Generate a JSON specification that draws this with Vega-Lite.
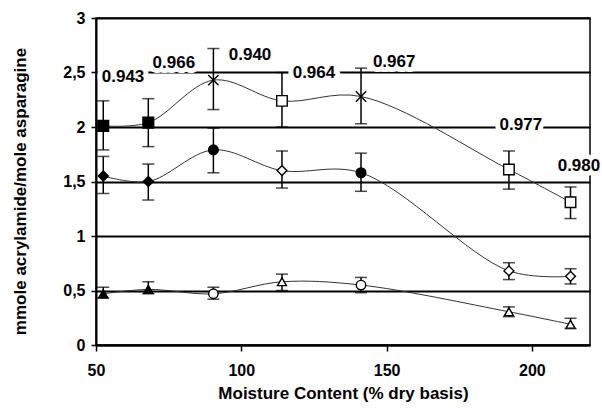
{
  "$schema": "https://vega.github.io/schema/vega-lite/v6.json",
  "width": 494,
  "height": 327,
  "autosize": {"type": "none"},
  "padding": {"left": 96, "top": 18, "right": 12, "bottom": 63},
  "background": "white",
  "config": {
    "view": {"stroke": "black", "strokeWidth": 1.5},
    "font": "Liberation Sans"
  },
  "datasets": {
    "points": [
      {"series": "A", "x": 52.5, "y": 2.01, "lo": 1.79, "hi": 2.24, "symbol": "sq_f"},
      {"series": "A", "x": 68, "y": 2.04, "lo": 1.82, "hi": 2.26, "symbol": "sq_f"},
      {"series": "A", "x": 90.4, "y": 2.43, "lo": 2.16, "hi": 2.72, "symbol": "x"},
      {"series": "A", "x": 114, "y": 2.24, "lo": 2.0, "hi": 2.5, "symbol": "sq_o"},
      {"series": "A", "x": 141.2, "y": 2.28, "lo": 2.03, "hi": 2.54, "symbol": "x"},
      {"series": "A", "x": 192.1, "y": 1.61, "lo": 1.43, "hi": 1.78, "symbol": "sq_o"},
      {"series": "A", "x": 213.3, "y": 1.31, "lo": 1.16, "hi": 1.45, "symbol": "sq_o"},
      {"series": "B", "x": 52.5, "y": 1.55, "lo": 1.39, "hi": 1.73, "symbol": "dia_f"},
      {"series": "B", "x": 68, "y": 1.5, "lo": 1.33, "hi": 1.66, "symbol": "dia_f"},
      {"series": "B", "x": 90.4, "y": 1.79, "lo": 1.58, "hi": 1.99, "symbol": "cir_f"},
      {"series": "B", "x": 114, "y": 1.6, "lo": 1.44, "hi": 1.78, "symbol": "dia_o"},
      {"series": "B", "x": 141.2, "y": 1.58, "lo": 1.41, "hi": 1.76, "symbol": "cir_f"},
      {"series": "B", "x": 192.1, "y": 0.68, "lo": 0.6, "hi": 0.755, "symbol": "dia_o"},
      {"series": "B", "x": 213.3, "y": 0.63, "lo": 0.56, "hi": 0.7, "symbol": "dia_o"},
      {"series": "C", "x": 52.5, "y": 0.47, "lo": 0.43, "hi": 0.53, "symbol": "tri_f"},
      {"series": "C", "x": 68, "y": 0.51, "lo": 0.47, "hi": 0.58, "symbol": "tri_f"},
      {"series": "C", "x": 90.4, "y": 0.47, "lo": 0.42, "hi": 0.53, "symbol": "cir_o"},
      {"series": "C", "x": 114, "y": 0.58, "lo": 0.5, "hi": 0.65, "symbol": "tri_o"},
      {"series": "C", "x": 141.2, "y": 0.55, "lo": 0.48, "hi": 0.62, "symbol": "cir_o"},
      {"series": "C", "x": 192.1, "y": 0.305, "lo": 0.26, "hi": 0.35, "symbol": "tri_o"},
      {"series": "C", "x": 213.3, "y": 0.19, "lo": 0.15, "hi": 0.245, "symbol": "tri_o"}
    ],
    "labels": [
      {"x": 59.3, "y": 2.46, "label": "0.943"},
      {"x": 76.8, "y": 2.59, "label": "0.966"},
      {"x": 103, "y": 2.66, "label": "0.940"},
      {"x": 125, "y": 2.5, "label": "0.964"},
      {"x": 152.6, "y": 2.6, "label": "0.967"},
      {"x": 196.2, "y": 2.02, "label": "0.977"},
      {"x": 216.2, "y": 1.645, "label": "0.980"}
    ]
  },
  "layer": [
    {
      "data": {"name": "points"},
      "mark": {"type": "line", "interpolate": "catmull-rom", "color": "#333333", "strokeWidth": 1},
      "encoding": {
        "x": {
          "field": "x", "type": "quantitative",
          "scale": {"domain": [50, 220], "nice": false, "zero": false},
          "axis": {
            "values": [50, 100, 150, 200],
            "title": "Moisture Content (% dry basis)",
            "grid": false,
            "domainColor": "black", "domainWidth": 2,
            "tickColor": "black", "tickWidth": 1.5, "tickSize": 6,
            "labelFont": "Liberation Sans", "labelFontSize": 16, "labelFontWeight": "bold", "labelColor": "black",
            "labelPadding": 11, "labelFlush": false,
            "titleFont": "Liberation Sans", "titleFontSize": 17, "titleFontWeight": "bold", "titleColor": "black",
            "titlePadding": 7
          }
        },
        "y": {
          "field": "y", "type": "quantitative",
          "scale": {"domain": [0, 3], "nice": false},
          "axis": {
            "values": [0, 0.5, 1, 1.5, 2, 2.5, 3],
            "labelExpr": "replace(toString(datum.value), '.', ',')",
            "title": "mmole acrylamide/mole asparagine",
            "grid": true, "gridColor": "black", "gridWidth": 2, "gridOpacity": 1,
            "domainColor": "black", "domainWidth": 2,
            "tickColor": "black", "tickWidth": 1.5, "tickSize": 5,
            "labelFont": "Liberation Sans", "labelFontSize": 16, "labelFontWeight": "bold", "labelColor": "black",
            "labelPadding": 6,
            "titleFont": "Liberation Sans", "titleFontSize": 17, "titleFontWeight": "bold", "titleColor": "black",
            "titleX": -67, "titleY": 173
          }
        },
        "detail": {"field": "series"}
      }
    },
    {
      "data": {"name": "points"},
      "mark": {"type": "rule", "color": "black", "strokeWidth": 1.5},
      "encoding": {
        "x": {"field": "x", "type": "quantitative"},
        "y": {"field": "lo", "type": "quantitative"},
        "y2": {"field": "hi"}
      }
    },
    {
      "data": {"name": "points"},
      "transform": [{"fold": ["lo", "hi"], "as": ["end", "val"]}],
      "mark": {"type": "tick", "orient": "horizontal", "size": 12, "thickness": 1.5, "color": "black"},
      "encoding": {
        "x": {"field": "x", "type": "quantitative"},
        "y": {"field": "val", "type": "quantitative"}
      }
    },
    {
      "data": {"name": "points"},
      "mark": {"type": "point", "stroke": "black", "strokeWidth": 1.4, "opacity": 1, "fillOpacity": 1},
      "encoding": {
        "x": {"field": "x", "type": "quantitative"},
        "y": {"field": "y", "type": "quantitative"},
        "shape": {
          "field": "symbol", "type": "nominal", "legend": null,
          "scale": {
            "domain": ["sq_f", "sq_o", "x", "dia_f", "dia_o", "cir_f", "cir_o", "tri_f", "tri_o"],
            "range": ["square", "square", "M-1,-1L1,1M-1,1L1,-1", "diamond", "diamond", "circle", "circle", "triangle-up", "triangle-up"]
          }
        },
        "fill": {
          "field": "symbol", "type": "nominal", "legend": null,
          "scale": {
            "domain": ["sq_f", "sq_o", "x", "dia_f", "dia_o", "cir_f", "cir_o", "tri_f", "tri_o"],
            "range": ["black", "white", "white", "black", "white", "black", "white", "black", "white"]
          }
        },
        "size": {
          "field": "symbol", "type": "nominal", "legend": null,
          "scale": {
            "domain": ["sq_f", "sq_o", "x", "dia_f", "dia_o", "cir_f", "cir_o", "tri_f", "tri_o"],
            "range": [115, 80, 160, 130, 110, 120, 120, 130, 110]
          }
        }
      }
    },
    {
      "data": {"name": "labels"},
      "mark": {"type": "text", "font": "Liberation Sans", "fontSize": 17, "fontWeight": "bold", "color": "white", "stroke": "white", "strokeWidth": 10, "strokeJoin": "round", "align": "center", "baseline": "middle"},
      "encoding": {
        "x": {"field": "x", "type": "quantitative"},
        "y": {"field": "y", "type": "quantitative"},
        "text": {"field": "label"}
      }
    },
    {
      "data": {"name": "labels"},
      "mark": {"type": "text", "font": "Liberation Sans", "fontSize": 17, "fontWeight": "bold", "color": "black", "align": "center", "baseline": "middle"},
      "encoding": {
        "x": {"field": "x", "type": "quantitative"},
        "y": {"field": "y", "type": "quantitative"},
        "text": {"field": "label"}
      }
    }
  ]
}
